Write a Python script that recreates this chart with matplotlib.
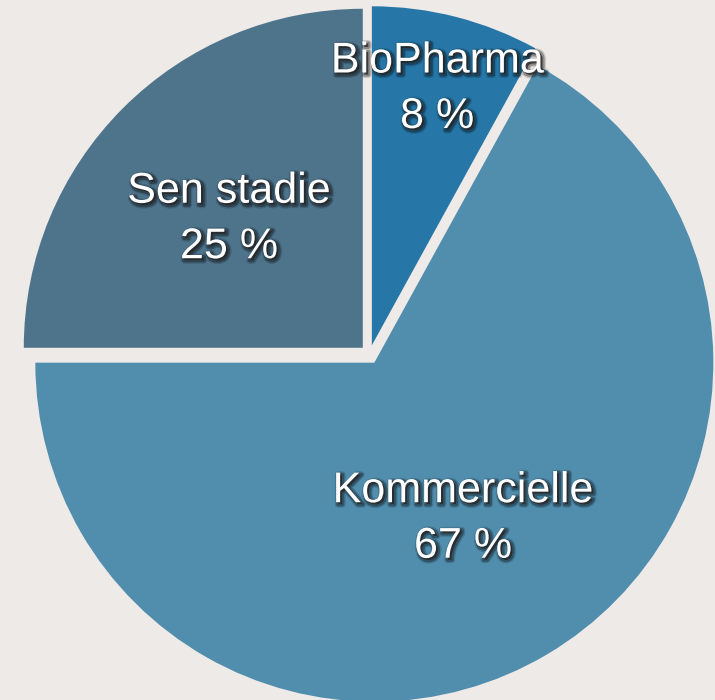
import numpy as np
import matplotlib
matplotlib.use("Agg")
import matplotlib.pyplot as plt
import matplotlib.patheffects as pe

categories = ["BioPharma", "Kommercielle", "Sen stadie"]
values = [8, 67, 25]
colors = ["#2677a8", "#518eae", "#4e748c"]
label_dist = [0.82, 0.55, 0.58]

W, H = 715, 700
fig = plt.figure(figsize=(W / 100, H / 100), dpi=100)
fig.patch.set_facecolor("#eeeae7")
ax = fig.add_axes([0, 0, 1, 1])
ax.set_facecolor("#eeeae7")

cx, cy, R = 369.5, H - 354.5, 339
explode = [9.5] * len(values)
wedges, _ = ax.pie(values, colors=colors, startangle=90, counterclock=False,
                   center=(cx, cy), radius=R, explode=explode,
                   wedgeprops=dict(linewidth=0), frame=True)
ax.set_xlim(0, W)
ax.set_ylim(0, H)
ax.set_aspect("equal")
ax.axis("off")

effects = [pe.Stroke(offset=(1.5, -1.5), linewidth=5, foreground="black", alpha=0.15),
           pe.Stroke(offset=(1.5, -1.5), linewidth=3, foreground="black", alpha=0.3),
           pe.SimplePatchShadow(offset=(1.5, -1.5), shadow_rgbFace="black", alpha=0.6),
           pe.Normal()]

for w, name, v, d in zip(wedges, categories, values, label_dist):
    ang = np.deg2rad((w.theta1 + w.theta2) / 2)
    x = cx + d * R * np.cos(ang) - 1.5
    y = cy + d * R * np.sin(ang) - 4
    ax.text(x, y, f"{name}\n{v} %", ha="center", va="center",
            fontsize=31, color="white", family=["Liberation Sans", "DejaVu Sans"],
            linespacing=1.5, path_effects=effects)

fig.savefig("out.png", dpi=100, facecolor=fig.get_facecolor())
